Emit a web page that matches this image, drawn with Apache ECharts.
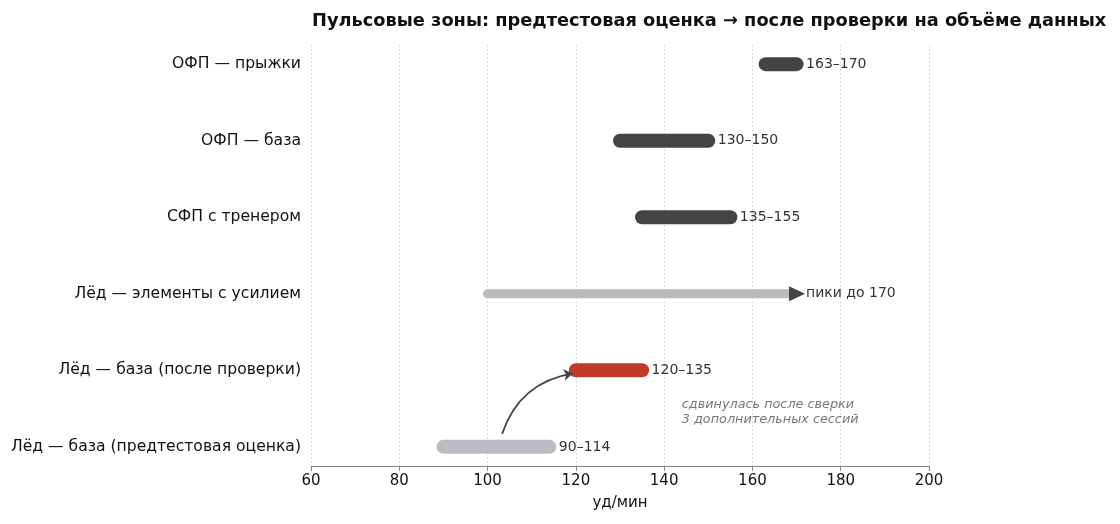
<!DOCTYPE html>
<html>
<head>
<meta charset="utf-8">
<script src="https://cdn.jsdelivr.net/npm/echarts@6/dist/echarts.min.js"></script>
<style>
  html, body { margin: 0; padding: 0; background: #fff; }
  #chart { width: 1120px; height: 524px; }
</style>
</head>
<body>
<div id="chart"></div>
<script>
// rows from bottom to top
const categories = [
  'Лёд — база (предтестовая оценка)',
  'Лёд — база (после проверки)',
  'Лёд — элементы с усилием',
  'СФП с тренером',
  'ОФП — база',
  'ОФП — прыжки'
];
const lows = [90, 120, 100, 135, 130, 163];
const highs = [114, 135, 170, 155, 150, 170];
const rangeLabels = ['90–114', '120–135', 'пики до 170', '135–155', '130–150', '163–170'];
const xTicks = [60, 80, 100, 120, 140, 160, 180, 200];

// shift arrow: from pre-test bar to checked bar
const shiftFrom = [103.3, 0.17];
const shiftTo = [119.3, 0.96];
const noteText = 'сдвинулась после сверки\n3 дополнительных сессий';
const notePos = [144, 0.45];

const barColors = ['#b9bcc3', '#c0392b', '#bbbbbb', '#444444', '#444444', '#444444'];
const barWidths = [14, 14, 9, 14, 14, 14];
const FONT = 'DejaVu Sans';

const chart = echarts.init(document.getElementById('chart'), null, { renderer: 'canvas' });

const rangeData = categories.map((c, i) => [i, lows[i], highs[i]]);

function renderRange(params, api) {
  const i = params.dataIndex;
  const start = api.coord([api.value(1), api.value(0)]);
  const end = api.coord([api.value(2), api.value(0)]);
  const w = barWidths[i];
  const isPeak = i === 2;
  const children = [];
  children.push({
    type: 'line',
    shape: { x1: start[0], y1: start[1], x2: isPeak ? end[0] - 7 : end[0], y2: end[1] },
    style: { stroke: barColors[i], lineWidth: w, lineCap: 'round' }
  });
  if (isPeak) {
    children.push({
      type: 'polygon',
      shape: { points: [[end[0] - 7.5, end[1] - 7.5], [end[0] + 8.5, end[1]], [end[0] - 7.5, end[1] + 7.5]] },
      style: { fill: '#444444' }
    });
  }
  children.push({
    type: 'text',
    style: {
      text: rangeLabels[i],
      x: end[0] + 9.5,
      y: end[1],
      verticalAlign: 'middle',
      align: 'left',
      fill: '#333333',
      font: '14px "' + FONT + '"'
    }
  });
  return { type: 'group', children: children };
}

const option = {
  animation: false,
  textStyle: { fontFamily: FONT },
  title: {
    text: 'Пульсовые зоны: предтестовая оценка → после проверки на объёме данных',
    left: 307,
    top: 7,
    textStyle: { fontFamily: FONT, fontSize: 17.8, fontWeight: 'bold', color: '#111' }
  },
  grid: { left: 311, right: 191, top: 45, bottom: 58 },
  xAxis: {
    type: 'value',
    min: 60,
    max: 200,
    interval: 20,
    name: 'уд/мин',
    nameLocation: 'middle',
    nameGap: 30,
    nameTextStyle: { fontSize: 15, color: '#111', fontFamily: FONT },
    axisLine: { show: true, onZero: false, lineStyle: { color: '#888', width: 1 } },
    axisTick: { show: true, length: 5, lineStyle: { color: '#888' } },
    axisLabel: {
      fontSize: 15, color: '#111', margin: 8, fontFamily: FONT,
      customValues: xTicks
    },
    splitLine: { show: true, lineStyle: { color: '#dcdcdc', type: [2, 2], width: 1 } }
  },
  yAxis: {
    type: 'value',
    min: -0.25,
    max: 5.25,
    axisLine: { show: false },
    axisTick: { show: false },
    splitLine: { show: false },
    axisLabel: {
      customValues: categories.map((c, i) => i),
      formatter: (v) => categories[Math.round(v)],
      fontSize: 15.6,
      color: '#111',
      margin: 10,
      fontFamily: FONT
    }
  },
  series: [
    {
      type: 'custom',
      renderItem: renderRange,
      encode: { x: [1, 2], y: 0 },
      data: rangeData,
      z: 3
    },
    {
      type: 'lines',
      coordinateSystem: 'cartesian2d',
      data: [{ coords: [shiftFrom, shiftTo] }],
      symbol: ['none', 'arrow'],
      symbolSize: 9,
      lineStyle: { color: '#444', width: 1.8, curveness: 0.3, opacity: 1 },
      z: 4
    },
    {
      type: 'scatter',
      data: [notePos],
      symbolSize: 0,
      silent: true,
      label: {
        show: true,
        position: 'right',
        distance: 0,
        formatter: noteText,
        fontStyle: 'italic',
        fontSize: 12.8,
        lineHeight: 15,
        color: '#555',
        fontFamily: FONT
      }
    }
  ]
};

chart.setOption(option);
</script>
</body>
</html>
